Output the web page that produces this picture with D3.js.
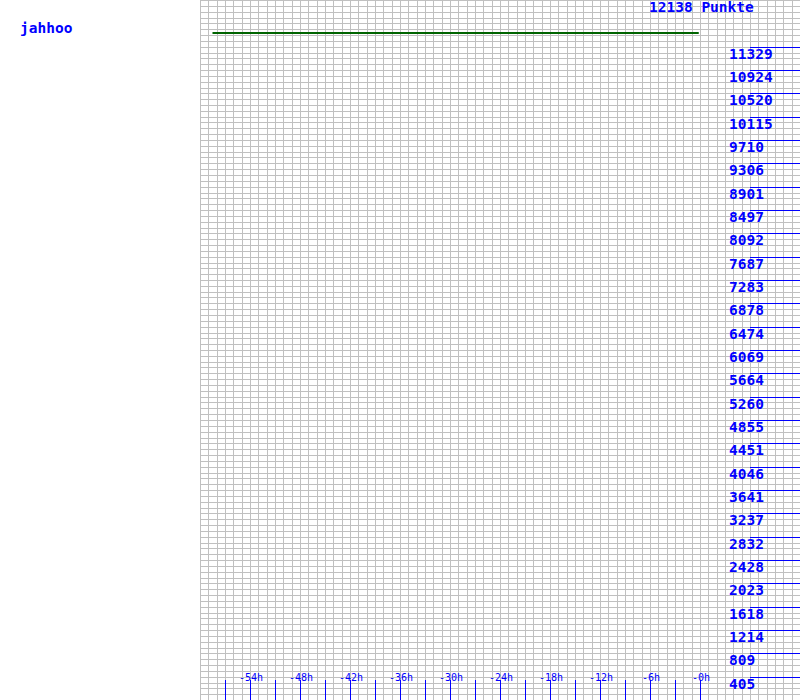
<!DOCTYPE html>
<html>
<head>
<meta charset="utf-8">
<script src="https://cdn.jsdelivr.net/npm/d3@7"></script>
<style>
  html, body { margin: 0; padding: 0; background: #fff; }
  svg { display: block; }
  text { font-family: "DejaVu Sans Mono", "Liberation Mono", monospace; fill: #0000ff; }
</style>
</head>
<body>
<svg id="chart" width="800" height="700"></svg>
<script>
// ---- data ----
const playerName = "jahhoo";
const maxPoints = 12138;
const titleSuffix = "Punkte";
const seriesHours = [-58.5, -0.15];
const seriesPoints = [11566, 11566];
const yTickLabels = [405, 809, 1214, 1618, 2023, 2428, 2832, 3237, 3641, 4046, 4451, 4855, 5260, 5664,
  6069, 6474, 6878, 7283, 7687, 8092, 8497, 8901, 9306, 9710, 10115, 10520, 10924, 11329];
const xLabelHours = [-54, -48, -42, -36, -30, -24, -18, -12, -6, 0];
const xTickHours = [-57, -54, -51, -48, -45, -42, -39, -36, -33, -30, -27, -24, -21, -18, -15, -12, -9, -6, -3, 0];

// ---- scales ----
const svg = d3.select("#chart");
const x = d3.scaleLinear().domain([-60, 12]).range([200, 800]);
const y = d3.scaleLinear().domain([0, maxPoints]).range([700, 0]);

// grid
const grid = svg.append("g").attr("stroke", "#c0c0c0").attr("stroke-width", 1);
const vHours = d3.range(-60, 12.001, 1);
grid.selectAll("line.v").data(vHours).enter().append("line")
  .attr("x1", d => Math.round(x(d)) + 0.5).attr("x2", d => Math.round(x(d)) + 0.5)
  .attr("y1", 0).attr("y2", 700);
const hVals = d3.range(0, 121).map(i => i * maxPoints / 120);
grid.selectAll("line.h").data(hVals).enter().append("line")
  .attr("x1", 200).attr("x2", 800)
  .attr("y1", d => Math.round(y(d)) + 0.5).attr("y2", d => Math.round(y(d)) + 0.5);

// y ticks (right side)
const yStep = maxPoints / 30;
const yt = svg.append("g");
yt.selectAll("line").data(yTickLabels).enter().append("line")
  .attr("x1", 750).attr("x2", 800)
  .attr("y1", (d, i) => Math.round(y((i + 1) * yStep)) + 0.5)
  .attr("y2", (d, i) => Math.round(y((i + 1) * yStep)) + 0.5)
  .attr("stroke", "#0000ff").attr("stroke-width", 1);
yt.selectAll("text").data(yTickLabels).enter().append("text")
  .attr("x", 729)
  .attr("y", (d, i) => y((i + 1) * yStep) + 12)
  .attr("font-size", "14.5px").attr("font-weight", "bold")
  .text(d => d);

// x ticks
const xt = svg.append("g");
xt.selectAll("line").data(xTickHours).enter().append("line")
  .attr("x1", d => Math.round(x(d)) + 0.5).attr("x2", d => Math.round(x(d)) + 0.5)
  .attr("y1", 680).attr("y2", 700)
  .attr("stroke", "#0000ff").attr("stroke-width", 1);
xt.selectAll("text").data(xLabelHours).enter().append("text")
  .attr("x", d => x(d) + 1)
  .attr("y", 681)
  .attr("text-anchor", "middle")
  .attr("font-size", "10px")
  .text(d => (d === 0 ? "-0" : d) + "h");

// series line
const line = d3.line().x((d, i) => x(seriesHours[i])).y(d => y(d));
svg.append("path").datum(seriesPoints)
  .attr("d", line)
  .attr("fill", "none").attr("stroke", "#006400").attr("stroke-width", 2);

// title & name
svg.append("text").attr("x", 649).attr("y", 12).attr("font-size", "14.5px").attr("font-weight", "bold")
  .text(maxPoints + " " + titleSuffix);
svg.append("text").attr("x", 20).attr("y", 33).attr("font-size", "14.5px").attr("font-weight", "bold")
  .text(playerName);
</script>
</body>
</html>
